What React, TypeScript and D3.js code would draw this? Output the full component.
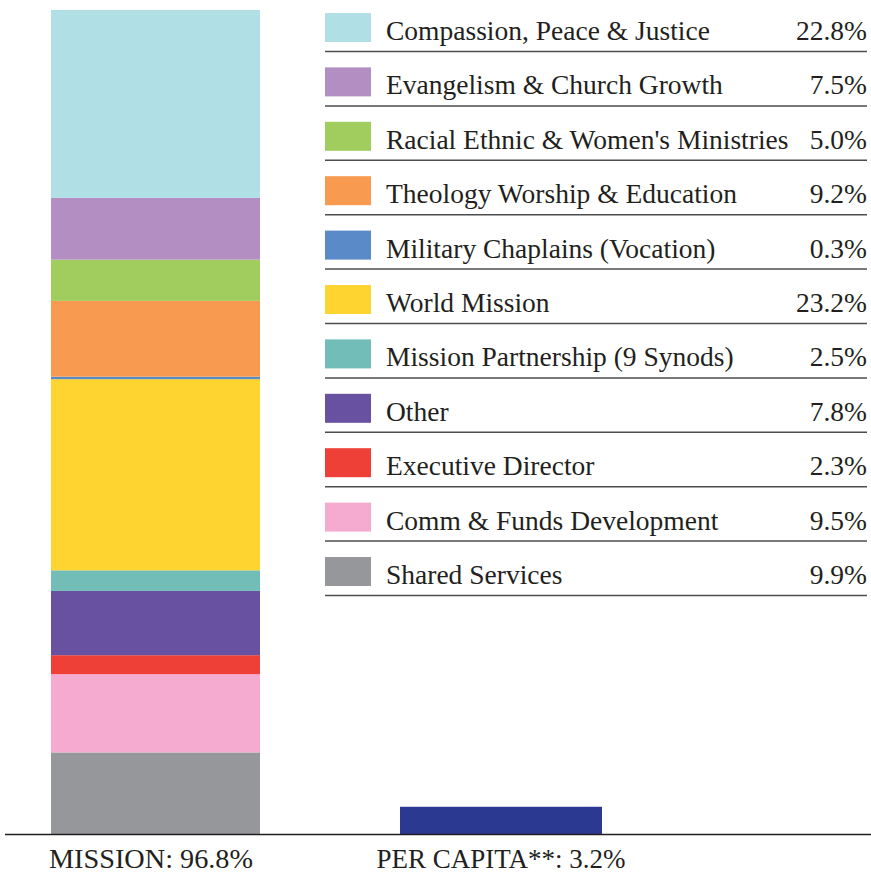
import React from "react";
import * as d3 from "d3";

// mission breakdown (share of mission, %)
const categories = [
  "Compassion, Peace & Justice",
  "Evangelism & Church Growth",
  "Racial Ethnic & Women's Ministries",
  "Theology Worship & Education",
  "Military Chaplains (Vocation)",
  "World Mission",
  "Mission Partnership (9 Synods)",
  "Other",
  "Executive Director",
  "Comm & Funds Development",
  "Shared Services",
];
const shares = [22.8, 7.5, 5.0, 9.2, 0.3, 23.2, 2.5, 7.8, 2.3, 9.5, 9.9];
const colors = [
  "#b0dfe5", "#b28ec3", "#a0cd5e", "#f89b50", "#5b8ac9", "#fed530",
  "#72bdb8", "#6951a1", "#ee4036", "#f4abcf", "#96979b",
];

const bars = ["MISSION", "PER CAPITA**"];
const barTotals = [96.8, 3.2];
const perCapitaColor = "#2b3990";

const W = 871;
const H = 873;
const baseY = 834;
const topY = 10;
const serif = "'Liberation Serif', 'Times New Roman', Times, serif";

const App = () => {
  const x = d3.scaleOrdinal<string, number>().domain(bars).range([51, 400]);
  const barW = 209;
  const y = d3.scaleLinear().domain([0, barTotals[0]]).range([baseY, topY]);

  // stack mission shares (scaled into overall percent), first category on top
  const row: Record<string, number> = {};
  categories.forEach((c, i) => (row[c] = (shares[i] * barTotals[0]) / 100));
  const order = categories.slice().reverse();
  const series = d3.stack<Record<string, number>>().keys(order)([row]);

  const legendY = d3.scaleBand<number>().domain(d3.range(categories.length)).range([13, 13 + 54.4 * categories.length]);

  return (
    <svg width={W} height={H} style={{ position: "absolute", left: 0, top: 0, fontFamily: serif }}>
      {series.map((s) => {
        const i = categories.indexOf(s.key);
        const d = s[0];
        return (
          <rect key={s.key} x={x(bars[0])} width={barW} y={y(d[1])} height={y(d[0]) - y(d[1])} fill={colors[i]} />
        );
      })}
      <rect x={x(bars[1])} width={202} y={y(barTotals[1])} height={baseY - y(barTotals[1])} fill={perCapitaColor} />
      <line x1={5} x2={871} y1={baseY + 0.5} y2={baseY + 0.5} stroke="#231f20" strokeWidth={1.5} />
      {bars.map((b, i) => (
        <text key={b} x={x(b) + (i === 0 ? 100 : 101)} y={868} textAnchor="middle" fontSize={27} fill="#231f20"
          textLength={i === 0 ? 204 : 249} lengthAdjust="spacingAndGlyphs">
          {`${b}: ${d3.format(".1f")(barTotals[i])}%`}
        </text>
      ))}
      {categories.map((c, i) => {
        const ty = legendY(i) as number;
        return (
          <g key={c} transform={`translate(0,${ty})`}>
            <rect x={325} y={0} width={46} height={29} fill={colors[i]} />
            <text x={386} y={27} fontSize={27.5} fill="#231f20">{c}</text>
            <text x={867} y={27} fontSize={27.5} fill="#231f20" textAnchor="end">
              {d3.format(".1f")(shares[i])}%
            </text>
            <line x1={325} x2={867} y1={38.5} y2={38.5} stroke="#4d4d4f" strokeWidth={1.5} />
          </g>
        );
      })}
    </svg>
  );
};

export default App;
